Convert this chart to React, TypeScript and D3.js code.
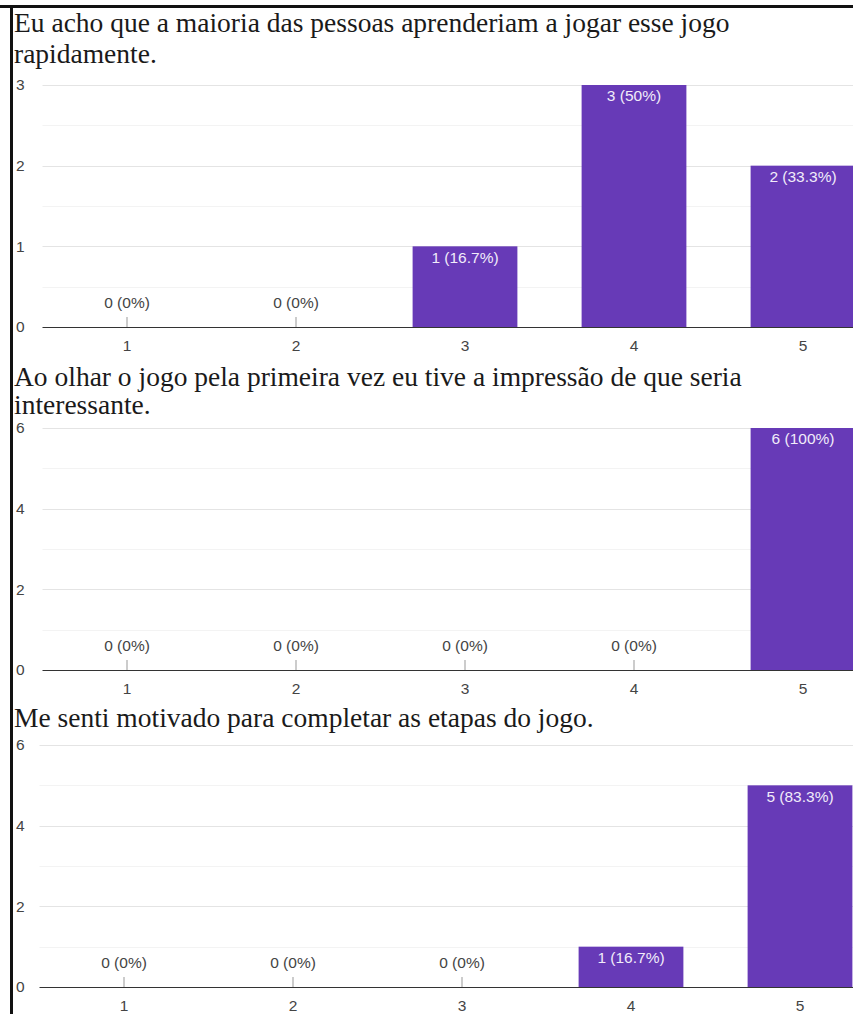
import React, { useRef, useEffect } from 'react';
import * as d3 from 'd3';

// answers on a 1..5 scale, 6 respondents per question
const categories = ['1', '2', '3', '4', '5'];
const learnCounts = [0, 0, 1, 3, 2];
const interestCounts = [0, 0, 0, 0, 6];
const motivationCounts = [0, 0, 0, 1, 5];

const learnTitle = [
  'Eu acho que a maioria das pessoas aprenderiam a jogar esse jogo',
  'rapidamente.',
];
const interestTitle = [
  'Ao olhar o jogo pela primeira vez eu tive a impressão de que seria',
  'interessante.',
];
const motivationTitle = ['Me senti motivado para completar as etapas do jogo.'];

const smallTicks = [0, 1, 2, 3];
const smallMinor = [0.5, 1.5, 2.5];
const largeTicks = [0, 2, 4, 6];
const largeMinor = [1, 3, 5];

const W = 853;
const H = 1014;
const PLOT_H = 242;
const PURPLE = '#673ab7';
const LABEL_FONT = '"Liberation Sans", Arial, sans-serif';
const LABEL_SIZE = 15.5;

interface Panel {
  title: string[];
  counts: number[];
  ticks: number[];
  minor: number[];
  max: number;
  top: number; // plot top
  titleY: number[]; // baselines
  x0: number;
}

const panels: Panel[] = [
  { title: learnTitle, counts: learnCounts, ticks: smallTicks, minor: smallMinor, max: 3, top: 85, titleY: [32, 63], x0: 42.5 },
  { title: interestTitle, counts: interestCounts, ticks: largeTicks, minor: largeMinor, max: 6, top: 428, titleY: [386, 414], x0: 42.5 },
  { title: motivationTitle, counts: motivationCounts, ticks: largeTicks, minor: largeMinor, max: 6, top: 745, titleY: [727], x0: 39.5 },
];

function pct(v: number, total: number): string {
  const p = Math.round((v / total) * 1000) / 10;
  return `${v} (${p}%)`;
}

function App(): React.ReactElement {
  const svgRef = useRef<SVGSVGElement | null>(null);

  useEffect(() => {
    const svg = d3.select(svgRef.current);
    svg.selectAll('*').remove();

    svg.append('rect').attr('width', W).attr('height', H).attr('fill', '#fff');

    panels.forEach((p) => {
      const total = d3.sum(p.counts);
      const g = svg.append('g');

      const x = d3.scaleBand<string>()
        .domain(categories)
        .range([p.x0, p.x0 + 845])
        .paddingInner(0.38)
        .paddingOuter(0.19);
      const y = d3.scaleLinear().domain([0, p.max]).range([p.top + PLOT_H, p.top]);

      // title
      g.selectAll('text.title')
        .data(p.title)
        .enter()
        .append('text')
        .attr('class', 'title')
        .attr('x', 14)
        .attr('y', (_d, i) => p.titleY[i])
        .attr('font-family', '"Liberation Serif", "Times New Roman", serif')
        .attr('font-size', 27.5)
        .attr('fill', '#1a1a1a')
        .text((d) => d);

      // gridlines
      g.selectAll('line.minor')
        .data(p.minor)
        .enter()
        .append('line')
        .attr('x1', p.x0)
        .attr('x2', W)
        .attr('y1', (d) => Math.round(y(d)) + 0.5)
        .attr('y2', (d) => Math.round(y(d)) + 0.5)
        .attr('stroke', '#f3f3f3');
      g.selectAll('line.major')
        .data(p.ticks.filter((t) => t > 0))
        .enter()
        .append('line')
        .attr('x1', p.x0)
        .attr('x2', W)
        .attr('y1', (d) => Math.round(y(d)) + 0.5)
        .attr('y2', (d) => Math.round(y(d)) + 0.5)
        .attr('stroke', '#e4e4e4');

      // y labels
      g.selectAll('text.ylab')
        .data(p.ticks)
        .enter()
        .append('text')
        .attr('x', 16)
        .attr('y', (d) => y(d))
        .attr('dy', '0.35em')
        .attr('font-family', LABEL_FONT)
        .attr('font-size', LABEL_SIZE)
        .attr('fill', '#444')
        .text((d) => d);

      // bars
      g.selectAll('rect.bar')
        .data(p.counts)
        .enter()
        .append('rect')
        .attr('x', (_d, i) => x(categories[i]) as number)
        .attr('y', (d) => y(d))
        .attr('width', x.bandwidth())
        .attr('height', (d) => y(0) - y(d))
        .attr('fill', PURPLE);

      // stems for empty categories
      g.selectAll('line.stem')
        .data(p.counts.map((v, i) => ({ v, i })).filter((d) => d.v === 0))
        .enter()
        .append('line')
        .attr('x1', (d) => (x(categories[d.i]) as number) + x.bandwidth() / 2)
        .attr('x2', (d) => (x(categories[d.i]) as number) + x.bandwidth() / 2)
        .attr('y1', y(0) - 10)
        .attr('y2', y(0))
        .attr('stroke', '#999');

      // value labels
      g.selectAll('text.val')
        .data(p.counts)
        .enter()
        .append('text')
        .attr('x', (_d, i) => (x(categories[i]) as number) + x.bandwidth() / 2)
        .attr('y', (d) => (d === 0 ? y(0) - 24 : y(d) + 11))
        .attr('dy', '0.35em')
        .attr('text-anchor', 'middle')
        .attr('font-family', LABEL_FONT)
        .attr('font-size', LABEL_SIZE)
        .attr('fill', (d) => (d === 0 ? '#444' : '#f1ecfa'))
        .text((d) => pct(d, total));

      // baseline axis
      g.append('line')
        .attr('x1', p.x0)
        .attr('x2', W)
        .attr('y1', y(0) + 0.5)
        .attr('y2', y(0) + 0.5)
        .attr('stroke', '#333');

      // category labels
      g.selectAll('text.cat')
        .data(categories)
        .enter()
        .append('text')
        .attr('x', (d) => (x(d) as number) + x.bandwidth() / 2)
        .attr('y', y(0) + 19)
        .attr('dy', '0.35em')
        .attr('text-anchor', 'middle')
        .attr('font-family', LABEL_FONT)
        .attr('font-size', LABEL_SIZE)
        .attr('fill', '#444')
        .text((d) => d);
    });

    // frame around the screenshot
    svg.append('rect').attr('x', 0).attr('y', 5).attr('width', W).attr('height', 3).attr('fill', '#111');
    svg.append('rect').attr('x', 10).attr('y', 5).attr('width', 3).attr('height', H).attr('fill', '#111');
  }, []);

  return (
    <div style={{ position: 'absolute', left: 0, top: 0 }}>
      <svg ref={svgRef} width={W} height={H} style={{ display: 'block' }} />
    </div>
  );
}

export default App;
